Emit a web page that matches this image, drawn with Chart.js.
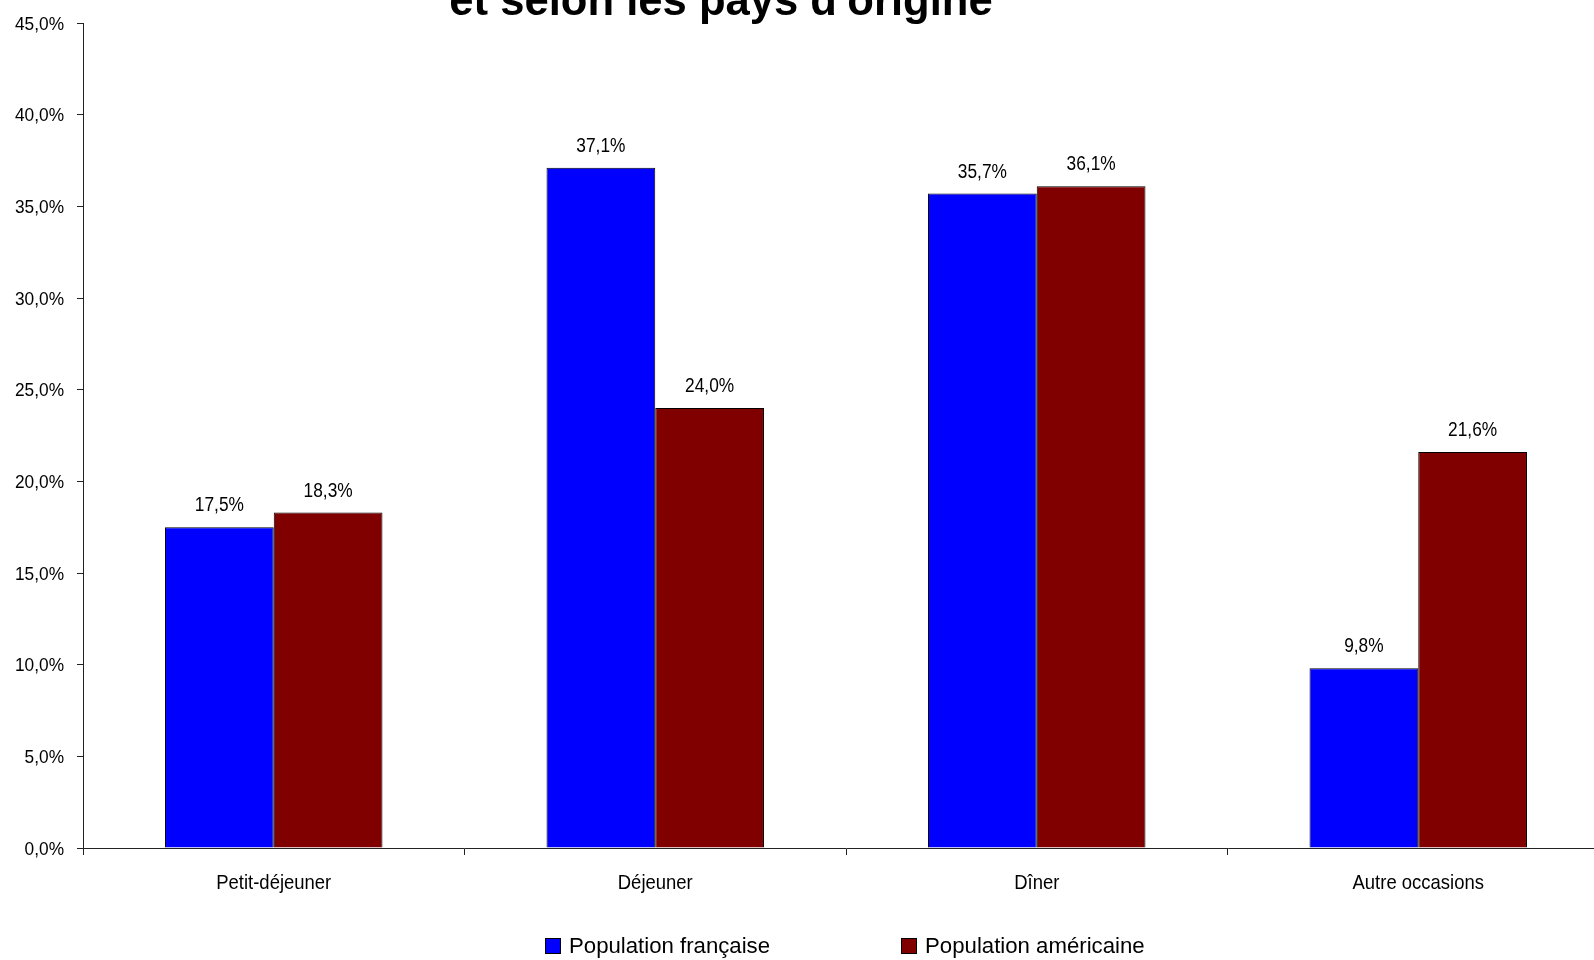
<!DOCTYPE html>
<html lang="fr">
<head>
<meta charset="utf-8">
<title>Répartition des repas selon les pays d'origine</title>
<script src="https://cdn.jsdelivr.net/npm/chart.js@4.4.1/dist/chart.umd.min.js"></script>
<style>
  html, body { margin: 0; padding: 0; background: #fff; overflow: hidden; width: 1594px; height: 960px; }
  #wrap { position: absolute; left: 0; top: 0; width: 1612px; height: 960px; }
  #legend { position: absolute; left: 545px; top: 933px; display: flex; gap: 131px;
            font-family: 'Liberation Sans', Arial, sans-serif; font-size: 22.2px; line-height: 26px; color: #000; }
  .item { display: flex; align-items: flex-start; white-space: nowrap; }
  .box { box-sizing: border-box; width: 16px; height: 16px; border: 1px solid #000; margin-right: 8px; margin-top: 5px; }
</style>
</head>
<body>
<div id="wrap"><canvas id="c" width="1612" height="960"></canvas></div>
<div id="legend"></div>
<script>
// Meal occasions and share of each population (percent)
const categories = ['Petit-déjeuner', 'Déjeuner', 'Dîner', 'Autre occasions'];
const seriesNames = ['Population française', 'Population américaine'];
const francaise = [17.5, 37.1, 35.7, 9.8];
const americaine = [18.3, 24.0, 36.1, 21.6];
const yTicks = [0, 5, 10, 15, 20, 25, 30, 35, 40, 45];
const titleLine = "et selon les pays d'origine";

const colors = ['#0000FF', '#800000'];
const family = "'Liberation Sans', Arial, sans-serif";
const fmt = v => v.toFixed(1).replace('.', ',') + '%';

// Text in a slightly condensed face (horizontal squeeze)
function drawText(ctx, text, x, y, size, sx, align, weight) {
  ctx.save();
  ctx.translate(x, y);
  ctx.scale(sx, 1);
  ctx.font = (weight || 'normal') + ' ' + size + 'px ' + family;
  ctx.fillStyle = '#000';
  ctx.textAlign = align;
  ctx.textBaseline = 'alphabetic';
  ctx.fillText(text, 0, 0);
  ctx.restore();
}

// Title line at the top edge of the canvas
const titlePlugin = {
  id: 'topTitle',
  afterDraw(chart) {
    drawText(chart.ctx, titleLine, 721, 15, 43.6, 1, 'center', 'bold');
  }
};

// Axis tick labels, placed from the chart's own scales
const axisLabels = {
  id: 'axisLabels',
  afterDraw(chart) {
    const ctx = chart.ctx;
    const xs = chart.scales.x, ys = chart.scales.y;
    ys.ticks.forEach((t) => {
      const py = ys.getPixelForValue(t.value);
      drawText(ctx, fmt(t.value), ys.right - 19, py + 6.8, 19, 0.91, 'right');
    });
    categories.forEach((c, i) => {
      const px = xs.getPixelForValue(i);
      drawText(ctx, c, px, chart.chartArea.bottom + 41, 21, 0.88, 'center');
    });
  }
};

// Value labels above each bar
const valueLabels = {
  id: 'valueLabels',
  afterDatasetsDraw(chart) {
    const ctx = chart.ctx;
    chart.data.datasets.forEach((ds, i) => {
      chart.getDatasetMeta(i).data.forEach((bar, j) => {
        drawText(ctx, fmt(ds.data[j]), bar.x, bar.y - 16, 20, 0.865, 'center');
      });
    });
  }
};

const chart = new Chart(document.getElementById('c'), {
  type: 'bar',
  data: {
    labels: categories,
    datasets: [
      { label: seriesNames[0], data: francaise, backgroundColor: colors[0], borderColor: '#000', borderWidth: 1, borderSkipped: 'bottom' },
      { label: seriesNames[1], data: americaine, backgroundColor: colors[1], borderColor: '#000', borderWidth: 1, borderSkipped: 'bottom' }
    ]
  },
  options: {
    responsive: false,
    animation: false,
    events: [],
    layout: { padding: { top: 23, right: 3, left: 0, bottom: 0 } },
    datasets: { bar: { categoryPercentage: 0.57, barPercentage: 1.0 } },
    plugins: { legend: { display: false }, title: { display: false }, tooltip: { enabled: false } },
    scales: {
      x: {
        grid: { offset: true, drawOnChartArea: false, tickLength: 7, color: '#222' },
        border: { color: '#222', width: 1 },
        ticks: { display: false },
        afterFit(scale) { scale.height = 112; }
      },
      y: {
        min: 0, max: 45,
        afterBuildTicks(scale) { scale.ticks = yTicks.map(v => ({ value: v })); },
        grid: { drawOnChartArea: false, tickLength: 6, color: '#222' },
        border: { color: '#222', width: 1 },
        ticks: { display: false },
        afterFit(scale) { scale.width = 83; }
      }
    }
  },
  plugins: [titlePlugin, axisLabels, valueLabels]
});

// Legend built from the datasets
const legend = document.getElementById('legend');
seriesNames.forEach((name, i) => {
  const item = document.createElement('div');
  item.className = 'item';
  const box = document.createElement('span');
  box.className = 'box';
  box.style.background = colors[i];
  const txt = document.createElement('span');
  txt.textContent = name;
  item.appendChild(box);
  item.appendChild(txt);
  legend.appendChild(item);
});
</script>
</body>
</html>
